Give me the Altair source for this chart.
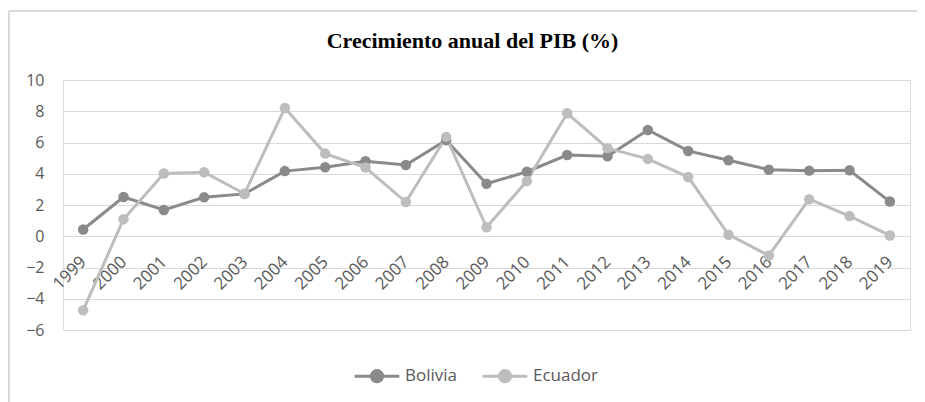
import altair as alt
import pandas as pd

years = [str(y) for y in range(1999, 2020)]
bolivia = [0.43, 2.51, 1.68, 2.49, 2.71, 4.17, 4.42, 4.80, 4.56, 6.15, 3.36,
           4.13, 5.20, 5.12, 6.80, 5.46, 4.86, 4.26, 4.20, 4.22, 2.22]
ecuador = [-4.74, 1.09, 4.02, 4.10, 2.72, 8.21, 5.29, 4.40, 2.19, 6.36, 0.57,
           3.53, 7.87, 5.64, 4.95, 3.79, 0.10, -1.23, 2.37, 1.29, 0.05]
series = ["Bolivia", "Ecuador"]
colors = ["#8a8a8a", "#bdbdbd"]

df = pd.DataFrame(
    {"year": years * 2,
     "value": bolivia + ecuador,
     "country": [series[0]] * len(years) + [series[1]] * len(years)}
)

W, H = 847, 250
FONT = "Open Sans"

sym = "M-1,0L1,0M-0.25,0A0.25,0.25 0 1,1 0.25,0A0.25,0.25 0 1,1 -0.25,0Z"

color = alt.Color(
    "country:N",
    scale=alt.Scale(domain=series, range=colors),
    legend=alt.Legend(
        title=None, orient="none", direction="horizontal",
        legendX=290, legendY=272, symbolType=sym, symbolSize=2000,
        symbolStrokeWidth=3, labelFont=FONT, labelFontSize=17,
        labelColor="#595959", columnPadding=18, labelOffset=4,
    ),
)

x = alt.X(
    "year:N", sort=years, title=None,
    scale=alt.Scale(paddingInner=0, paddingOuter=0),
    axis=alt.Axis(labelAngle=-45, labelAlign="right", labelBaseline="middle",
                  offset=-76, labelPadding=5, domain=False, ticks=False,
                  grid=False, labelFont=FONT, labelFontSize=17,
                  labelColor="#595959"),
)
y = alt.Y(
    "value:Q", title=None,
    scale=alt.Scale(domain=[-6, 10], nice=False),
    axis=alt.Axis(values=list(range(-6, 11, 2)), domain=False, ticks=False,
                  labelPadding=19, labelFont=FONT, labelFontSize=16,
                  labelColor="#595959", gridColor="#d9d9d9", gridWidth=1),
)

base = alt.Chart(df).encode(x=x, y=y, color=color, order=alt.Order("year:N"))
lines = base.mark_line(strokeWidth=3)
points = base.mark_point(filled=True, size=110, opacity=1)

frame = alt.Chart(df).mark_rule(color="#d9d9d9", strokeWidth=2).encode(
    x=alt.value(-54), x2=alt.value(W + 20), y=alt.value(-69)
)
frame_left = alt.Chart(df).mark_rule(color="#d9d9d9", strokeWidth=2).encode(
    x=alt.value(-54), y=alt.value(-69), y2=alt.value(H + 80)
)

chart = (
    alt.layer(frame, frame_left, lines, points)
    .properties(
        width=W, height=H,
        title=alt.TitleParams("Crecimiento anual del PIB (%)",
                              font="Liberation Serif", fontSize=22,
                              fontWeight="bold", color="#000000",
                              anchor="middle", offset=-43, dx=-14),
        autosize=alt.AutoSizeParams(type="none"),
        padding={"left": 55, "top": 72, "right": 7, "bottom": 72},
    )
    .configure_view(stroke=None)
    .configure(background="white")
)

chart.save("out.html", embed_options={"renderer": "svg", "actions": False})
